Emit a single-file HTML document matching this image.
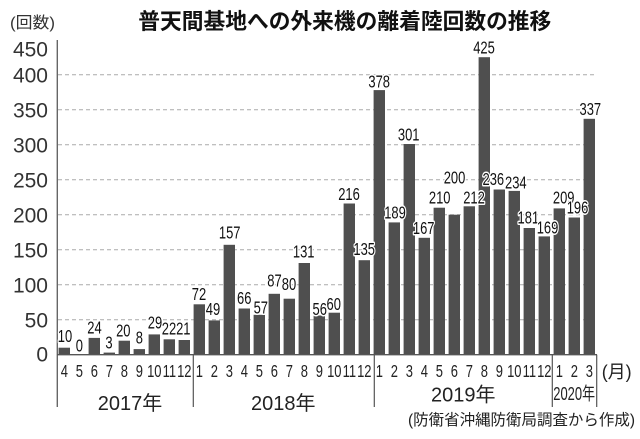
<!DOCTYPE html>
<html><head><meta charset="utf-8">
<style>
html,body{margin:0;padding:0;background:#fff;}
svg{display:block;}
text{font-family:"Liberation Sans","Noto Sans CJK JP",sans-serif;}
</style></head>
<body>
<svg width="640" height="439" viewBox="0 0 640 439" xmlns="http://www.w3.org/2000/svg">
<rect width="640" height="439" fill="#fff"/>
<!-- title -->
<text x="138.3" y="29" font-size="22" font-weight="bold" fill="#111" textLength="413" lengthAdjust="spacingAndGlyphs">普天間基地への外来機の離着陸回数の推移</text>
<text x="10" y="28" font-size="16" fill="#333" textLength="45" lengthAdjust="spacingAndGlyphs">(回数)</text>
<!-- gridlines -->
<g stroke="#aaa" stroke-width="1" stroke-dasharray="4,3">
<line x1="58" y1="319.7" x2="597" y2="319.7"/>
<line x1="58" y1="284.7" x2="597" y2="284.7"/>
<line x1="58" y1="249.7" x2="597" y2="249.7"/>
<line x1="58" y1="214.7" x2="597" y2="214.7"/>
<line x1="58" y1="179.7" x2="597" y2="179.7"/>
<line x1="58" y1="144.7" x2="597" y2="144.7"/>
<line x1="58" y1="109.7" x2="597" y2="109.7"/>
<line x1="58" y1="74.7" x2="597" y2="74.7"/>
</g>
<!-- y labels -->
<g font-size="21" fill="#333" text-anchor="end">
<text x="48" y="361.7">0</text>
<text x="48" y="327.7">50</text>
<text x="48" y="292.7">100</text>
<text x="48" y="257.7">150</text>
<text x="48" y="222.7">200</text>
<text x="48" y="187.7">250</text>
<text x="48" y="152.7">300</text>
<text x="48" y="117.7">350</text>
<text x="48" y="82.7">400</text>
<text x="48" y="56.7">450</text>
</g>
<!-- bars -->
<g fill="#4f4f4f">
<rect x="58.6" y="347.7" width="11.4" height="7"/>
<rect x="88.6" y="337.9" width="11.4" height="16.8"/>
<rect x="103.6" y="352.6" width="11.4" height="2.1"/>
<rect x="118.6" y="340.7" width="11.4" height="14"/>
<rect x="133.6" y="349.1" width="11.4" height="5.6"/>
<rect x="148.6" y="334.4" width="11.4" height="20.3"/>
<rect x="163.6" y="339.3" width="11.4" height="15.4"/>
<rect x="178.6" y="340" width="11.4" height="14.7"/>
<rect x="193.6" y="304.3" width="11.4" height="50.4"/>
<rect x="208.6" y="320.4" width="11.4" height="34.3"/>
<rect x="223.6" y="244.8" width="11.4" height="109.9"/>
<rect x="238.6" y="308.5" width="11.4" height="46.2"/>
<rect x="253.6" y="314.8" width="11.4" height="39.9"/>
<rect x="268.6" y="293.8" width="11.4" height="60.9"/>
<rect x="283.6" y="298.7" width="11.4" height="56"/>
<rect x="298.6" y="263" width="11.4" height="91.7"/>
<rect x="313.6" y="315.5" width="11.4" height="39.2"/>
<rect x="328.6" y="312.7" width="11.4" height="42"/>
<rect x="343.6" y="203.5" width="11.4" height="151.2"/>
<rect x="358.6" y="260.2" width="11.4" height="94.5"/>
<rect x="373.6" y="90.1" width="11.4" height="264.6"/>
<rect x="388.6" y="222.4" width="11.4" height="132.3"/>
<rect x="403.6" y="144" width="11.4" height="210.7"/>
<rect x="418.6" y="237.8" width="11.4" height="116.9"/>
<rect x="433.6" y="207.7" width="11.4" height="147"/>
<rect x="448.6" y="214.7" width="11.4" height="140"/>
<rect x="463.6" y="206.3" width="11.4" height="148.4"/>
<rect x="478.6" y="57.2" width="11.4" height="297.5"/>
<rect x="493.6" y="189.5" width="11.4" height="165.2"/>
<rect x="508.6" y="190.9" width="11.4" height="163.8"/>
<rect x="523.6" y="228" width="11.4" height="126.7"/>
<rect x="538.6" y="236.4" width="11.4" height="118.3"/>
<rect x="553.6" y="208.4" width="11.4" height="146.3"/>
<rect x="568.6" y="217.5" width="11.4" height="137.2"/>
<rect x="583.6" y="118.8" width="11.4" height="235.9"/>
</g>
<!-- axes -->
<line x1="57.3" y1="40" x2="57.3" y2="407" stroke="#666" stroke-width="1.4"/>
<line x1="57" y1="354.7" x2="597" y2="354.7" stroke="#555" stroke-width="1.4"/>
<g stroke="#555" stroke-width="1.2">
<line x1="193.3" y1="354.7" x2="193.3" y2="407"/>
<line x1="374.3" y1="354.7" x2="374.3" y2="407"/>
<line x1="552.3" y1="354.7" x2="552.3" y2="407"/>
<line x1="596.7" y1="354.7" x2="596.7" y2="407"/>
</g>
<!-- value labels -->
<g font-size="18" fill="#111" stroke="#fff" stroke-width="3" paint-order="stroke" stroke-linejoin="round" text-anchor="middle">
<text transform="translate(65,342) scale(0.72,1)">10</text>
<text transform="translate(79.3,351.7) scale(0.72,1)">0</text>
<text transform="translate(94.5,333.3) scale(0.72,1)">24</text>
<text transform="translate(109,348.3) scale(0.72,1)">3</text>
<text transform="translate(123.3,336.7) scale(0.72,1)">20</text>
<text transform="translate(139.3,343.3) scale(0.72,1)">8</text>
<text transform="translate(155,328.3) scale(0.72,1)">29</text>
<text transform="translate(169,334.3) scale(0.72,1)">22</text>
<text transform="translate(183.3,334.3) scale(0.72,1)">21</text>
<text transform="translate(199,300) scale(0.72,1)">72</text>
<text transform="translate(213,315) scale(0.72,1)">49</text>
<text transform="translate(229.7,238.3) scale(0.72,1)">157</text>
<text transform="translate(244.2,304) scale(0.72,1)">66</text>
<text transform="translate(260.8,313.3) scale(0.72,1)">57</text>
<text transform="translate(274.5,286.7) scale(0.72,1)">87</text>
<text transform="translate(289,290) scale(0.72,1)">80</text>
<text transform="translate(303.7,257.3) scale(0.72,1)">131</text>
<text transform="translate(319.7,315) scale(0.72,1)">56</text>
<text transform="translate(333.7,310) scale(0.72,1)">60</text>
<text transform="translate(349,200) scale(0.72,1)">216</text>
<text transform="translate(364.2,255) scale(0.72,1)">135</text>
<text transform="translate(379.2,87.3) scale(0.72,1)">378</text>
<text transform="translate(395,218.3) scale(0.72,1)">189</text>
<text transform="translate(408.7,140.7) scale(0.72,1)">301</text>
<text transform="translate(423.7,234) scale(0.72,1)">167</text>
<text transform="translate(439.7,203.3) scale(0.72,1)">210</text>
<text transform="translate(454.5,183.3) scale(0.72,1)">200</text>
<text transform="translate(474,203.3) scale(0.72,1)">212</text>
<text transform="translate(484,53.3) scale(0.72,1)">425</text>
<text transform="translate(493.3,185) scale(0.72,1)">236</text>
<text transform="translate(515.8,188.3) scale(0.72,1)">234</text>
<text transform="translate(528.3,223.3) scale(0.72,1)">181</text>
<text transform="translate(547.5,233.3) scale(0.72,1)">169</text>
<text transform="translate(563.7,203.3) scale(0.72,1)">209</text>
<text transform="translate(577.5,213.3) scale(0.72,1)">196</text>
<text transform="translate(590.3,115) scale(0.72,1)">337</text>
</g>
<!-- month labels -->
<g font-size="18" fill="#222" text-anchor="middle">
<text transform="translate(64.3,377) scale(0.72,1)">4</text>
<text transform="translate(79.3,377) scale(0.72,1)">5</text>
<text transform="translate(94.3,377) scale(0.72,1)">6</text>
<text transform="translate(109.3,377) scale(0.72,1)">7</text>
<text transform="translate(124.3,377) scale(0.72,1)">8</text>
<text transform="translate(139.3,377) scale(0.72,1)">9</text>
<text transform="translate(154.3,377) scale(0.72,1)">10</text>
<text transform="translate(169.3,377) scale(0.72,1)">11</text>
<text transform="translate(184.3,377) scale(0.72,1)">12</text>
<text transform="translate(199.3,377) scale(0.72,1)">1</text>
<text transform="translate(214.3,377) scale(0.72,1)">2</text>
<text transform="translate(229.3,377) scale(0.72,1)">3</text>
<text transform="translate(244.3,377) scale(0.72,1)">4</text>
<text transform="translate(259.3,377) scale(0.72,1)">5</text>
<text transform="translate(274.3,377) scale(0.72,1)">6</text>
<text transform="translate(289.3,377) scale(0.72,1)">7</text>
<text transform="translate(304.3,377) scale(0.72,1)">8</text>
<text transform="translate(319.3,377) scale(0.72,1)">9</text>
<text transform="translate(334.3,377) scale(0.72,1)">10</text>
<text transform="translate(349.3,377) scale(0.72,1)">11</text>
<text transform="translate(364.3,377) scale(0.72,1)">12</text>
<text transform="translate(379.3,377) scale(0.72,1)">1</text>
<text transform="translate(394.3,377) scale(0.72,1)">2</text>
<text transform="translate(409.3,377) scale(0.72,1)">3</text>
<text transform="translate(424.3,377) scale(0.72,1)">4</text>
<text transform="translate(439.3,377) scale(0.72,1)">5</text>
<text transform="translate(454.3,377) scale(0.72,1)">6</text>
<text transform="translate(469.3,377) scale(0.72,1)">7</text>
<text transform="translate(484.3,377) scale(0.72,1)">8</text>
<text transform="translate(499.3,377) scale(0.72,1)">9</text>
<text transform="translate(514.3,377) scale(0.72,1)">10</text>
<text transform="translate(529.3,377) scale(0.72,1)">11</text>
<text transform="translate(544.3,377) scale(0.72,1)">12</text>
<text transform="translate(559.3,377) scale(0.72,1)">1</text>
<text transform="translate(574.3,377) scale(0.72,1)">2</text>
<text transform="translate(589.3,377) scale(0.72,1)">3</text>
</g>
<text x="601.7" y="378" font-size="18" fill="#222" textLength="30" lengthAdjust="spacingAndGlyphs">(月)</text>
<!-- year labels -->
<g font-size="20" fill="#222" text-anchor="middle">
<text x="130" y="410">2017年</text>
<text x="283.3" y="410">2018年</text>
<text x="463.3" y="401.7">2019年</text>
</g>
<text x="553.3" y="400" font-size="18" fill="#222" textLength="41.7" lengthAdjust="spacingAndGlyphs">2020年</text>
<!-- source -->
<text x="408" y="425" font-size="15.5" fill="#222" textLength="227" lengthAdjust="spacingAndGlyphs">(防衛省沖縄防衛局調査から作成)</text>
</svg>
</body></html>
